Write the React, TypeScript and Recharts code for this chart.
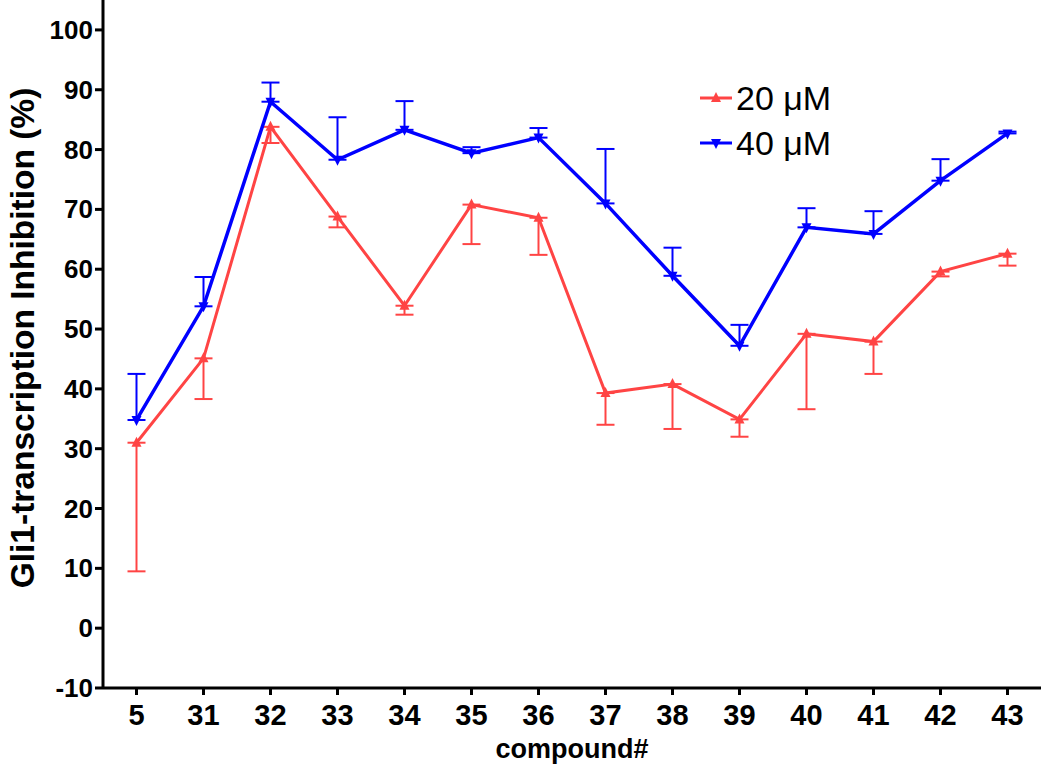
import React from 'react';
import { LineChart, Line, XAxis, YAxis, ErrorBar, Legend } from 'recharts';

// compounds on the x axis
const compounds = ['5', '31', '32', '33', '34', '35', '36', '37', '38', '39', '40', '41', '42', '43'];

// 20 µM: mean inhibition (%) and downward error
const inhib20 = [31.0, 45.1, 83.8, 68.8, 53.9, 70.8, 68.6, 39.3, 40.8, 34.9, 49.2, 47.9, 59.6, 62.6];
const err20 = [21.5, 6.8, 2.7, 1.8, 1.5, 6.6, 6.2, 5.3, 7.5, 2.9, 12.6, 5.4, 0.8, 2.0];

// 40 µM: mean inhibition (%) and upward error
const inhib40 = [34.8, 53.8, 88.0, 78.3, 83.3, 79.4, 82.0, 71.0, 58.9, 47.2, 67.0, 65.9, 74.8, 82.7];
const err40 = [7.7, 4.9, 3.2, 7.1, 4.8, 1.0, 1.6, 9.1, 4.7, 3.5, 3.2, 3.8, 3.6, 0.3];

const yTicks = [-10, 0, 10, 20, 30, 40, 50, 60, 70, 80, 90, 100];

const RED = '#ff4444';
const BLUE = '#0000ff';
const FONT = '"Liberation Sans", Arial, Helvetica, sans-serif';

const data = compounds.map((c, i) => ({
  compound: c,
  v20: inhib20[i],
  e20: [err20[i], 0],
  v40: inhib40[i],
  e40: [0, err40[i]],
}));

const TriUp = (props: any) => {
  const { cx, cy, index } = props;
  if (cx == null || cy == null) return null;
  return (
    <polygon key={`u${index}`} points={`${cx},${cy - 6} ${cx + 5},${cy + 4} ${cx - 5},${cy + 4}`} fill={RED} />
  );
};

const TriDown = (props: any) => {
  const { cx, cy, index } = props;
  if (cx == null || cy == null) return null;
  return (
    <polygon key={`d${index}`} points={`${cx - 5},${cy - 4} ${cx + 5},${cy - 4} ${cx},${cy + 6}`} fill={BLUE} />
  );
};

const XTick = (props: any) => {
  const { x, y, payload } = props;
  return (
    <text x={x} y={y + 28} textAnchor="middle" fontFamily={FONT} fontWeight="bold" fontSize={29} fill="#000">
      {payload.value}
    </text>
  );
};

const YTick = (props: any) => {
  const { x, y, payload } = props;
  return (
    <text x={x} y={y + 9} textAnchor="end" fontFamily={FONT} fontWeight="bold" fontSize={26} fill="#000">
      {payload.value}
    </text>
  );
};

const legendItems = [
  { label: '20 μM', color: RED, up: true },
  { label: '40 μM', color: BLUE, up: false },
];

const renderLegend = () => (
  <div style={{ fontFamily: FONT }}>
    {legendItems.map((it) => (
      <div key={it.label} style={{ display: 'flex', alignItems: 'center', height: 45 }}>
        <svg width={32} height={20}>
          <line x1={0} y1={10} x2={32} y2={10} stroke={it.color} strokeWidth={3} />
          {it.up ? (
            <polygon points="16,4 21,14 11,14" fill={it.color} />
          ) : (
            <polygon points="11,6 21,6 16,16" fill={it.color} />
          )}
        </svg>
        <span style={{ fontSize: 34, marginLeft: 4, color: '#000', lineHeight: '34px' }}>{it.label}</span>
      </div>
    ))}
  </div>
);

export default function App() {
  return (
    <div style={{ position: 'fixed', left: 0, top: 0, width: 1050, height: 773, background: '#fff' }}>
      <LineChart width={1050} height={773} data={data} margin={{ top: 0, right: 9, left: 0, bottom: 0 }}>
        <XAxis
          dataKey="compound"
          scale="band"
          height={85}
          tick={<XTick />}
          tickSize={7}
          tickMargin={2}
          interval={0}
          axisLine={{ stroke: '#000', strokeWidth: 3 }}
          tickLine={{ stroke: '#000', strokeWidth: 3 }}
          label={{
            content: (p: any) => {
              const vb = p.viewBox || { x: 103, y: 688, width: 938, height: 85 };
              return (
                <text
                  x={vb.x + vb.width / 2}
                  y={vb.y + 70}
                  textAnchor="middle"
                  fontFamily={FONT}
                  fontWeight="bold"
                  fontSize={27}
                  fill="#000"
                >
                  compound#
                </text>
              );
            },
          }}
        />
        <YAxis
          type="number"
          domain={[-10, 105]}
          ticks={yTicks}
          width={103}
          allowDataOverflow
          tick={<YTick />}
          tickSize={8}
          tickMargin={2}
          axisLine={{ stroke: '#000', strokeWidth: 3 }}
          tickLine={{ stroke: '#000', strokeWidth: 3 }}
          label={{
            content: (p: any) => {
              const vb = p.viewBox || { x: 0, y: 0, width: 103, height: 688 };
              const cx = vb.x + 34;
              const cy = vb.y + vb.height / 2 - 6;
              return (
                <text
                  x={cx}
                  y={cy}
                  transform={`rotate(-90 ${cx} ${cy})`}
                  textAnchor="middle"
                  fontFamily={FONT}
                  fontWeight="bold"
                  fontSize={33.5}
                  fill="#000"
                >
                  Gli1-transcription Inhibition (%)
                </text>
              );
            },
          }}
        />
        <Legend
          layout="vertical"
          verticalAlign="middle"
          align="center"
          content={renderLegend}
          wrapperStyle={{ left: 700, top: 75, width: 'auto' }}
        />
        <Line
          type="linear"
          dataKey="v20"
          stroke={RED}
          strokeWidth={3}
          dot={TriUp}
          activeDot={false}
          isAnimationActive={false}
        >
          <ErrorBar dataKey="e20" direction="y" width={9} stroke={RED} strokeWidth={2} isAnimationActive={false} />
        </Line>
        <Line
          type="linear"
          dataKey="v40"
          stroke={BLUE}
          strokeWidth={3.5}
          dot={TriDown}
          activeDot={false}
          isAnimationActive={false}
        >
          <ErrorBar dataKey="e40" direction="y" width={9} stroke={BLUE} strokeWidth={2} isAnimationActive={false} />
        </Line>
      </LineChart>
    </div>
  );
}
